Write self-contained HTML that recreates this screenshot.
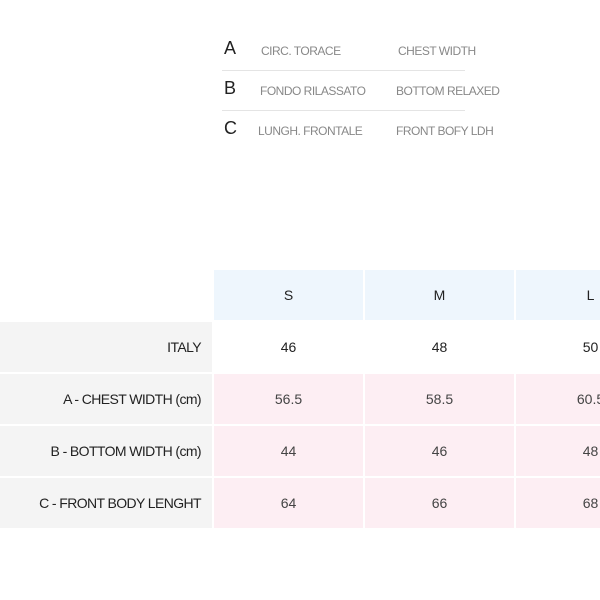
<!DOCTYPE html>
<html><head><style>
body{margin:0;width:600px;height:600px;background:#fff;position:relative;overflow:hidden;font-family:"Liberation Sans",sans-serif}
.a{position:absolute;white-space:nowrap}
.L{font-size:18px;color:#222}
.t{font-size:12px;color:#888;letter-spacing:-0.5px}
.hl{position:absolute;left:222px;width:243px;height:1px;background:#e4e4e4}
.c{position:absolute;display:flex;align-items:center;justify-content:center;font-size:14px;color:#444}
.g{background:#f4f4f4;justify-content:flex-end;padding-right:11px;box-sizing:border-box;color:#222;letter-spacing:-0.6px}
.b{background:#eef6fd;color:#222}
.p{background:#fdeef3}
.w{background:#fff;color:#222}
</style></head><body>
<div class="a L" style="left:224px;top:38px">A</div>
<div class="a t" style="left:261px;top:44px">CIRC. TORACE</div>
<div class="a t" style="left:398px;top:44px">CHEST WIDTH</div>
<div class="hl" style="top:70px"></div>
<div class="a L" style="left:224px;top:78px">B</div>
<div class="a t" style="left:260px;top:84px">FONDO RILASSATO</div>
<div class="a t" style="left:396px;top:84px">BOTTOM RELAXED</div>
<div class="hl" style="top:110px"></div>
<div class="a L" style="left:224px;top:118px">C</div>
<div class="a t" style="left:258px;top:124px">LUNGH. FRONTALE</div>
<div class="a t" style="left:396px;top:124px">FRONT BOFY LDH</div>

<div class="c b" style="left:214px;top:270px;width:149px;height:50px">S</div>
<div class="c b" style="left:365px;top:270px;width:149px;height:50px">M</div>
<div class="c b" style="left:516px;top:270px;width:149px;height:50px">L</div>

<div class="c g" style="left:0;top:322px;width:212px;height:50px">ITALY</div>
<div class="c w" style="left:214px;top:322px;width:149px;height:50px">46</div>
<div class="c w" style="left:365px;top:322px;width:149px;height:50px">48</div>
<div class="c w" style="left:516px;top:322px;width:149px;height:50px">50</div>

<div class="c g" style="left:0;top:374px;width:212px;height:50px">A - CHEST WIDTH (cm)</div>
<div class="c p" style="left:214px;top:374px;width:149px;height:50px">56.5</div>
<div class="c p" style="left:365px;top:374px;width:149px;height:50px">58.5</div>
<div class="c p" style="left:516px;top:374px;width:149px;height:50px">60.5</div>

<div class="c g" style="left:0;top:426px;width:212px;height:50px">B - BOTTOM WIDTH (cm)</div>
<div class="c p" style="left:214px;top:426px;width:149px;height:50px">44</div>
<div class="c p" style="left:365px;top:426px;width:149px;height:50px">46</div>
<div class="c p" style="left:516px;top:426px;width:149px;height:50px">48</div>

<div class="c g" style="left:0;top:478px;width:212px;height:50px">C - FRONT BODY LENGHT</div>
<div class="c p" style="left:214px;top:478px;width:149px;height:50px">64</div>
<div class="c p" style="left:365px;top:478px;width:149px;height:50px">66</div>
<div class="c p" style="left:516px;top:478px;width:149px;height:50px">68</div>
</body></html>
